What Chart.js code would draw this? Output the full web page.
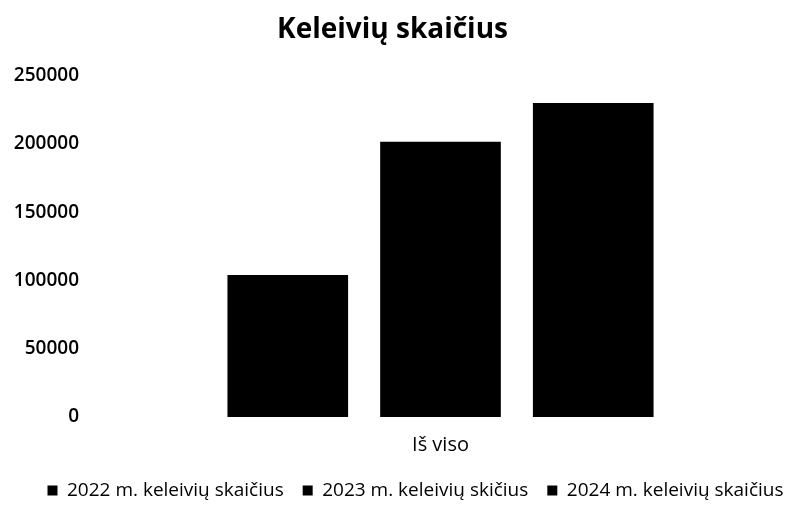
<!DOCTYPE html>
<html>
<head>
<meta charset="utf-8">
<script src="https://cdn.jsdelivr.net/npm/chart.js@4.4.1/dist/chart.umd.min.js"></script>
<style>
  body { margin: 0; background: #fff; }
  #wrap { width: 785px; height: 505px; }
</style>
</head>
<body>
<div id="wrap"><canvas id="chart"></canvas></div>
<script>
const categories = ["Iš viso"];
const seriesNames = [
  "2022 m. keleivių skaičius",
  "2023 m. keleivių skičius",
  "2024 m. keleivių skaičius",
];
const values2022 = [104000];
const values2023 = [201500];
const values2024 = [230000];
const yTicks = [0, 50000, 100000, 150000, 200000, 250000];

const font = "'Open Sans', Lato, sans-serif";

// the legend in the original sits a bit right of centre
const legendShift = {
  id: "legendShift",
  afterLayout: (chart) => {
    chart.legend.left += 23;
    chart.legend.right += 23;
  },
};

const mycharts = document.querySelector("#chart");
const myChart = new Chart(mycharts, {
  type: "bar",
  data: {
    labels: categories,
    datasets: [
      { label: seriesNames[0], data: values2022, backgroundColor: "#000" },
      { label: seriesNames[1], data: values2023, backgroundColor: "#000" },
      { label: seriesNames[2], data: values2024, backgroundColor: "#000" },
    ],
  },
  plugins: [legendShift],
  options: {
    responsive: true,
    maintainAspectRatio: false,
    animation: false,
    categoryPercentage: 0.665,
    barPercentage: 0.79,
    layout: { padding: { top: 8, right: 0, left: 0, bottom: -5 } },
    plugins: {
      title: {
        display: true,
        text: "Keleivių skaičius",
        color: "#000",
        font: { family: font, size: 28, weight: "bold" },
        padding: { top: 5, bottom: 29 },
      },
      legend: {
        position: "bottom",
        labels: {
          color: "#000",
          font: { family: font, size: 19 },
          boxWidth: 10,
          boxHeight: 10,
          padding: 19,
        },
      },
      tooltip: { enabled: false },
    },
    scales: {
      x: {
        grid: { display: false, drawTicks: false },
        border: { display: false },
        ticks: { color: "#000", font: { family: font, size: 20 }, padding: 16 },
        afterFit: (scale) => {
          scale.height = 45;
        },
      },
      y: {
        min: 0,
        max: 250000,
        grid: { display: false, drawTicks: false },
        border: { display: false },
        afterBuildTicks: (scale) => {
          scale.ticks = yTicks.map((v) => ({ value: v }));
        },
        afterFit: (scale) => {
          scale.width = 96;
        },
        ticks: {
          color: "#000",
          font: { family: font, size: 19, weight: "600" },
          padding: 17,
          callback: (v) => String(v),
        },
      },
    },
  },
});
</script>
</body>
</html>
